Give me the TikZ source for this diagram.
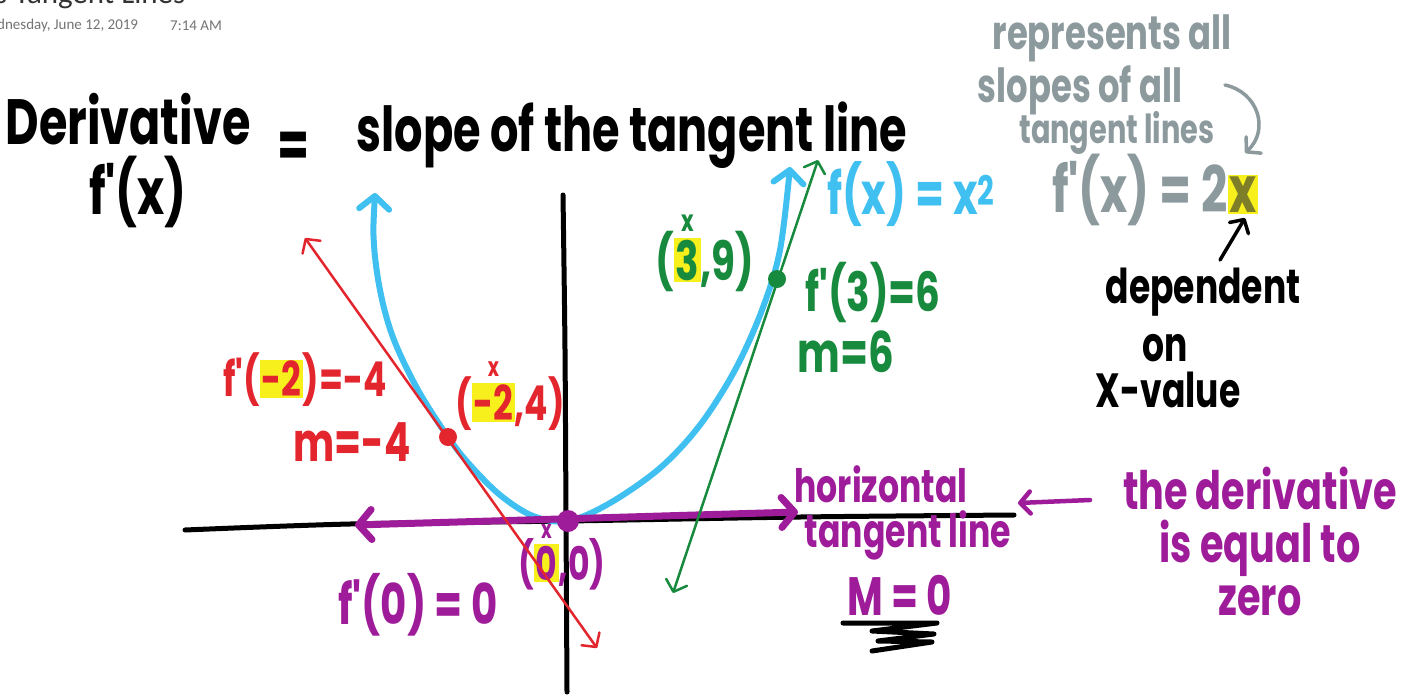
\documentclass[tikz,border=0pt]{standalone}
\usepackage{fontspec}
\setmainfont{Poppins}
\newfontfamily\handfont[FakeStretch=0.72]{Poppins}
\newfontfamily\notefont{Carlito}
\usetikzlibrary{arrows.meta}

\definecolor{penblue}{HTML}{3FC0F0}
\definecolor{penred}{HTML}{E3262E}
\definecolor{pengreen}{HTML}{178A3E}
\definecolor{penpurple}{HTML}{9E1B99}
\definecolor{pengray}{HTML}{8C9A9E}
\definecolor{marker}{HTML}{F8F01C}
\definecolor{olivex}{HTML}{7E7E28}

\newcommand{\hs}[1]{\handfont\bfseries\fontsize{#1}{#1}\selectfont}
\newcommand{\hl}[1]{{\setlength{\fboxsep}{1.5pt}\colorbox{marker}{#1}}}
\newcommand{\xon}[1]{\ooalign{\hfil\raisebox{0.9em}{\scalebox{0.55}{x}}\hfil\cr#1\cr}}

\begin{document}
\begin{tikzpicture}[x=1pt, y=-1pt,
  hand/.style={inner sep=0pt, font=\hs{#1}},
  pen/.style={line cap=round, line join=round},
  bigtips/.style={>={Straight Barb[length=13pt, width=30pt, round]}},
  smalltips/.style={>={Straight Barb[length=10pt, width=22pt, round]}}]
\useasboundingbox (0,0) rectangle (1421,696);
\clip (0,0) rectangle (1421,696);
\fill[white] (0,0) rectangle (1421,696);

\node[anchor=base west, inner sep=0pt, font=\notefont\fontsize{31}{31}\selectfont, text=black!80] (title) at (-5,4) {s Tangent Lines};
\node[anchor=west, inner sep=0pt, font=\notefont\fontsize{15}{15}\selectfont, text=black!55] (date) at (-3,26) {dnesday, June 12, 2019};
\node[anchor=west, inner sep=0pt, font=\notefont\fontsize{15}{15}\selectfont, text=black!55] (time) at (170,26) {7:14 AM};

\coordinate (O) at (568,521);
\coordinate (P) at (448,437);
\coordinate (Q) at (777,279);
\coordinate (R1) at (305,238);
\coordinate (R2) at (597,648);
\coordinate (G1) at (818,160);
\coordinate (G2) at (673,593);
\coordinate (H1) at (355,525);
\coordinate (H2) at (798,512);

% axes
\draw[pen, line width=5pt] plot[smooth] coordinates {(185,530) (350,524) (568,521) (800,517) (1014,515)};
\draw[pen, line width=5pt] plot[smooth] coordinates {(563,195) (565,350) (566,520) (567,692)};

\draw[pen, penblue, line width=6pt, bigtips, <->] plot[smooth, tension=0.55] coordinates {(375,193) (374,245) (381,295) (394,340) (418,390) (448,437) (470,465) (500,495) (533,516) (568,521) (610,503) (660,468) (700,425) (735,370) (762,310) (780,250) (790,167)};
\draw[pen, penpurple, line width=7pt, bigtips, <->] (H1) -- (H2);

\node[hand=64] (deriv) at (128,119) {Derivative};
\node[hand=64] (fprime) at (138,192) {f'(x)};
\node[hand=64] (eq) at (294,150) {=};
\node[hand=62] (slope) at (632,135) {slope of the tangent line};

\node[hand=47, text=pengray] (repr) at (1112,38) {represents all};
\node[hand=47, text=pengray] (slopes) at (1080,90) {slopes of all};
\node[hand=40, text=pengray] (tlines) at (1117,133) {tangent lines};
\node[hand=64, text=pengray] (deriv2x) at (1155,190) {f'(x) = 2\hl{\color{olivex}x}};

\node[hand=58, text=penblue] (fx) at (911,194) {f(x) = x\textsuperscript{2}};

\node[hand=48] (dep) at (1203,292) {dependent};
\node[hand=48] (on) at (1165,348) {on};
\node[hand=48] (xval) at (1168,390) {X-value};

\node[hand=54, text=pengreen, anchor=base] (pt3) at (705,280) {(\xon{\hl{3}},9)};
\node[hand=54, text=pengreen] (slope3) at (873,292) {f'(3)=6};
\node[hand=56, text=pengreen] (m3) at (846,352) {m=6};

\node[hand=48, text=penred] (slopeneg) at (305,380) {f'(\hl{-2})=-4};
\node[hand=54, text=penred] (mneg) at (352,442) {m=-4};
\node[hand=48, text=penred, anchor=base] (ptneg) at (510,420) {(\xon{\hl{-2}},4)};

\node[hand=46, text=penpurple, anchor=base] (pt0) at (562,580) {(\xon{\hl{0}},0)};
\node[hand=56, text=penpurple] (slope0) at (418,605) {f'(0) = 0};
\node[hand=46, text=penpurple] (horiz) at (881,484) {horizontal};
\node[hand=46, text=penpurple] (tline) at (908,535) {tangent line};
\node[hand=54, text=penpurple] (mzero) at (900,595) {M = 0};
\node[hand=53, text=penpurple, align=center] (zeronote) at (1260,541) {the derivative\\is equal to\\zero};

\draw[pen, penred, line width=2.5pt, smalltips, <->] (R1) -- (R2);
\draw[pen, pengreen, line width=2.5pt, smalltips, <->] (G1) -- (G2);
\fill[penred] (P) circle (9pt);
\fill[pengreen] (Q) circle (9pt);
\fill[penpurple] (O) circle (11pt);

\coordinate (gA) at (1225,85);
\coordinate (gB) at (1245,153);
\draw[pen, pengray, line width=3.5pt, smalltips, ->] (gA) .. controls (1258,92) and (1270,130) .. (gB);
\coordinate (kA) at (1220,260);
\coordinate (kB) at (1245,218);
\draw[pen, line width=3.5pt, smalltips, ->] (kA) -- (kB);
\coordinate (pA) at (1090,500);
\coordinate (pB) at (1018,503);
\draw[pen, penpurple, line width=4.5pt, smalltips, ->] (pA) -- (pB);
\draw[pen, line width=5pt] (843,623) -- (937,623) -- (872,631) -- (934,634) -- (878,641) -- (932,642) -- (872,651);
\end{tikzpicture}
\end{document}
